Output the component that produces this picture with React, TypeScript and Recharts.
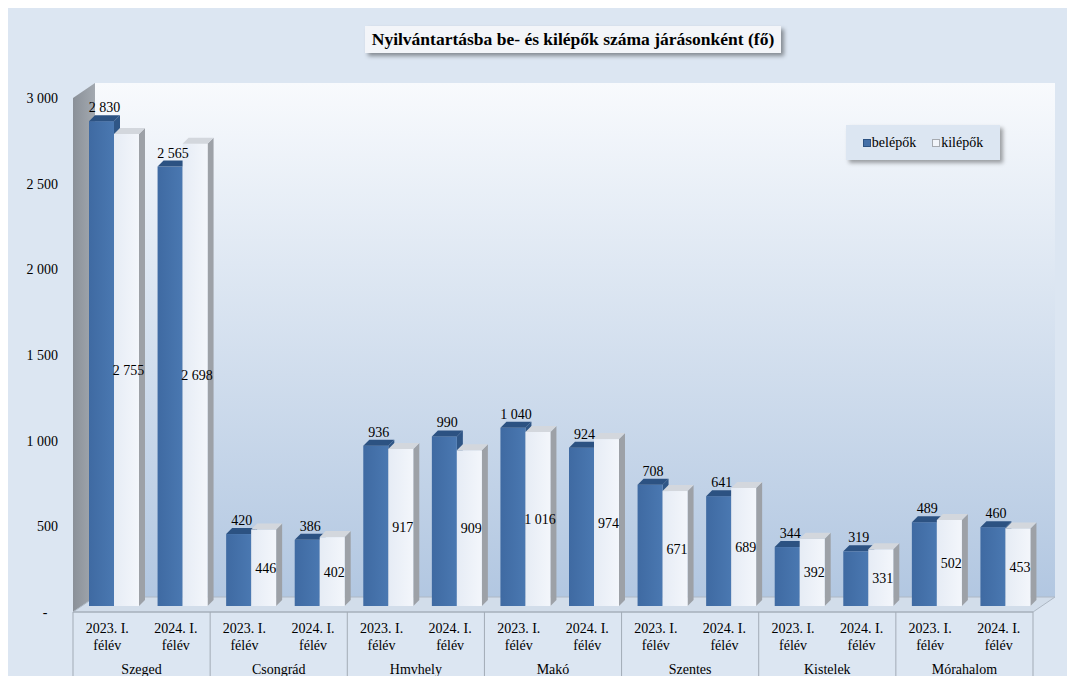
import React from 'react';
import { BarChart, Bar, XAxis, YAxis, LabelList } from 'recharts';

const districts = ['Szeged', 'Csongrád', 'Hmvhely', 'Makó', 'Szentes', 'Kistelek', 'Mórahalom'];
const periods = ['2023. I. félév', '2024. I. félév'];
const belepok = [2830, 2565, 420, 386, 936, 990, 1040, 924, 708, 641, 344, 319, 489, 460];
const kilepok = [2755, 2698, 446, 402, 917, 909, 1016, 974, 671, 689, 392, 331, 502, 453];
const yTicks = [0, 500, 1000, 1500, 2000, 2500, 3000];
const seriesNames = ['belépők', 'kilépők'];

const data = districts.flatMap((d, i) =>
  periods.map((p, j) => ({
    key: `${d}|${p}`,
    district: d,
    period: p,
    belepok: belepok[i * 2 + j],
    kilepok: kilepok[i * 2 + j],
  }))
);

const W = 1067;
const H = 668;
const M_TOP = 90;
const Y_W = 65;
const M_RIGHT = 42;
const X_H = 64;
const PLOT_L = Y_W;
const PLOT_R = W - M_RIGHT;
const PLOT_T = M_TOP;
const PLOT_B = H - X_H;
const BAND = (PLOT_R - PLOT_L) / data.length;
const DX = 22;
const DY = 15;
const SHIFT_X = 7;
const SHIFT_Y = -6;
const D = 6;
const FONT = '"Liberation Serif", "Times New Roman", Tinos, "DejaVu Serif", serif';
const FS = 14;

const fmt = (v: number) => (v === 0 ? '-\u00a0\u00a0\u00a0' : String(v).replace(/\B(?=(\d{3})+(?!\d))/g, ' '));

const palettes: Record<string, { front: string; front2: string; top: string; side: string; swatch: string; border: string }> = {
  blue: { front: '#3f6aa2', front2: '#4a78b1', top: '#2c5282', side: '#2f5686', swatch: '#4470a8', border: '#2c5282' },
  white: { front: '#e6ecf5', front2: '#f3f6fb', top: '#d3d7dd', side: '#9da1a7', swatch: '#f2f5fa', border: '#a6aab0' },
};

const Bar3D = (props: any) => {
  const { x, y, width, height, kind } = props;
  if (width == null || height == null) return null;
  const p = palettes[kind];
  const fx = x + SHIFT_X;
  const fy = y + SHIFT_Y;
  const w = width;
  const h = height;
  return (
    <g>
      <polygon
        points={`${fx + w},${fy} ${fx + w + D},${fy - D} ${fx + w + D},${fy + h - D} ${fx + w},${fy + h}`}
        fill={p.side}
      />
      <rect x={fx} y={fy} width={w} height={h} fill={`url(#grad-${kind})`} />
      <polygon
        points={`${fx},${fy} ${fx + D},${fy - D} ${fx + w + D},${fy - D} ${fx + w},${fy}`}
        fill={p.top}
      />
    </g>
  );
};

const BlueLabel = (props: any) => {
  const { x, y, width, value } = props;
  return (
    <text x={x + SHIFT_X + width / 2 + 3} y={y + SHIFT_Y - 9} textAnchor="middle" fontSize={FS} fontFamily={FONT} fill="#000">
      {fmt(value)}
    </text>
  );
};

const WhiteLabel = (props: any) => {
  const { x, y, width, height, value } = props;
  return (
    <text x={x + SHIFT_X + width / 2 + 2} y={y + SHIFT_Y + height / 2 + 5} textAnchor="middle" fontSize={FS} fontFamily={FONT} fill="#000">
      {fmt(value)}
    </text>
  );
};

const XTick = (props: any) => {
  const { x, payload, index } = props;
  const item = data[index] || data.find((d) => d.key === payload.value);
  const l1 = item.period.replace(' félév', '');
  const sepColor = '#a2abb6';
  return (
    <g fontFamily={FONT} fontSize={FS} fill="#000">
      <text x={x} y={PLOT_B + 21} textAnchor="middle">{l1}</text>
      <text x={x} y={PLOT_B + 38} textAnchor="middle">félév</text>
      {index % 2 === 0 && (
        <>
          <text x={x + BAND / 2} y={PLOT_B + 62} textAnchor="middle">{item.district}</text>
          <line x1={x - BAND / 2} x2={x - BAND / 2} y1={PLOT_B} y2={H} stroke={sepColor} />
        </>
      )}
      {index === data.length - 1 && (
        <line x1={x + BAND / 2} x2={x + BAND / 2} y1={PLOT_B} y2={H} stroke={sepColor} />
      )}
    </g>
  );
};

const LegendBox = () => (
  <div
    style={{
      position: 'absolute',
      left: 838,
      top: 117,
      width: 154,
      height: 35,
      background: '#dce6f2',
      boxShadow: '3px 3px 4px rgba(0,0,0,0.35)',
      display: 'flex',
      alignItems: 'center',
      justifyContent: 'center',
      gap: 16,
      fontFamily: FONT,
      fontSize: FS,
      color: '#000',
    }}
  >
    {['blue', 'white'].map((k, i) => (
      <span key={k} style={{ display: 'flex', alignItems: 'center' }}>
        <span style={{ width: 8, height: 8, background: palettes[k].swatch, border: `1px solid ${palettes[k].border}`, marginRight: 1, boxSizing: 'border-box' }} />
        {seriesNames[i]}
      </span>
    ))}
  </div>
);

export default function App() {
  return (
    <div style={{ position: 'relative', width: W, height: H, background: '#dce6f2', overflow: 'hidden' }}>
      <svg width={W} height={H} style={{ position: 'absolute', left: 0, top: 0 }}>
        <defs>
          <linearGradient id="wall" x1="0" y1="0" x2="0" y2="1">
            <stop offset="0" stopColor="#f8fafd" />
            <stop offset="0.35" stopColor="#dfe8f3" />
            <stop offset="1" stopColor="#b2c7e1" />
          </linearGradient>
          <linearGradient id="side" x1="0" y1="0" x2="1" y2="0">
            <stop offset="0" stopColor="#8a9098" />
            <stop offset="1" stopColor="#a3a9b0" />
          </linearGradient>
        </defs>
        <rect x={PLOT_L + DX} y={PLOT_T - DY} width={PLOT_R - PLOT_L} height={PLOT_B - PLOT_T} fill="url(#wall)" />
        <polygon
          points={`${PLOT_L},${PLOT_T} ${PLOT_L + DX},${PLOT_T - DY} ${PLOT_L + DX},${PLOT_B - DY} ${PLOT_L},${PLOT_B}`}
          fill="url(#side)"
        />
        <polygon
          points={`${PLOT_L},${PLOT_B} ${PLOT_R},${PLOT_B} ${PLOT_R + DX},${PLOT_B - DY} ${PLOT_L + DX},${PLOT_B - DY}`}
          fill="#d2ddea"
          stroke="#aeb8c4"
        />
      </svg>
      <div style={{ position: 'absolute', left: 0, top: 0 }}>
        <BarChart
          width={W}
          height={H}
          data={data}
          margin={{ top: M_TOP, right: M_RIGHT, bottom: 0, left: 0 }}
          barSize={25}
          barGap={0}
        >
          <defs>
            <linearGradient id="grad-blue" x1="0" y1="0" x2="1" y2="0">
              <stop offset="0" stopColor={palettes.blue.front} />
              <stop offset="1" stopColor={palettes.blue.front2} />
            </linearGradient>
            <linearGradient id="grad-white" x1="0" y1="0" x2="1" y2="0">
              <stop offset="0" stopColor={palettes.white.front} />
              <stop offset="1" stopColor={palettes.white.front2} />
            </linearGradient>
          </defs>
          <XAxis
            dataKey="key"
            height={X_H}
            interval={0}
            tick={<XTick />}
            tickLine={false}
            axisLine={{ stroke: '#a2abb6' }}
          />
          <YAxis
            width={Y_W}
            domain={[0, 3000]}
            ticks={yTicks}
            tickFormatter={fmt}
            tickLine={false}
            axisLine={false}
            tickSize={0}
            tickMargin={15}
            tick={{ fontSize: FS, fontFamily: FONT, fill: '#000' }}
          />
          <Bar dataKey="belepok" name={seriesNames[0]} isAnimationActive={false} shape={(p: any) => <Bar3D {...p} kind="blue" />}>
            <LabelList dataKey="belepok" content={<BlueLabel />} />
          </Bar>
          <Bar dataKey="kilepok" name={seriesNames[1]} isAnimationActive={false} shape={(p: any) => <Bar3D {...p} kind="white" />}>
            <LabelList dataKey="kilepok" content={<WhiteLabel />} />
          </Bar>
        </BarChart>
      </div>
      <LegendBox />
      <svg width={W} height={H} style={{ position: 'absolute', left: 0, top: 0, pointerEvents: 'none' }}>
        <defs>
          <filter id="shadow" x="-5%" y="-20%" width="115%" height="160%">
            <feDropShadow dx="3" dy="3" stdDeviation="2" floodColor="#000" floodOpacity="0.4" />
          </filter>
        </defs>
        <rect x={357} y={18} width={416} height={27} fill="#f3f5f9" filter="url(#shadow)" />
        <text x={565} y={37} textAnchor="middle" fontFamily={FONT} fontSize={17.5} fontWeight="bold" fill="#000">
          Nyilvántartásba be- és kilépők száma járásonként (fő)
        </text>
      </svg>
    </div>
  );
}
